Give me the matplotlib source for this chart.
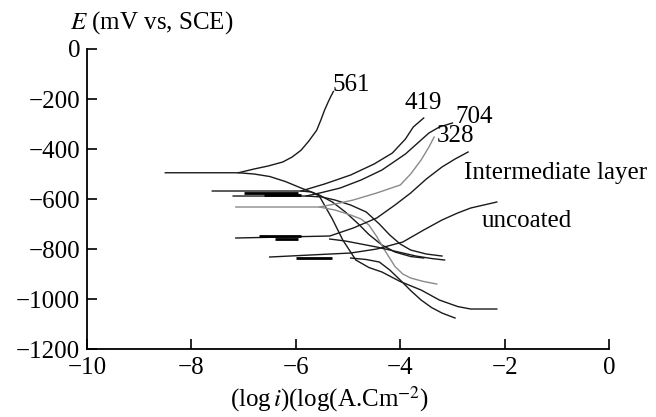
"""
Polarisation curves (Tafel) - coatings vs uncoated
"""
import matplotlib
matplotlib.use("Agg")
import matplotlib.pyplot as plt

# --- dane: log i, E [mV] ---
# galezie anodowe (z plaska czescia przy Ecorr) i katodowe
an_561_x = [-8.5, -7.1, -6.8, -6.53, -6.25, -6.07, -5.9, -5.75, -5.6, -5.52, -5.45, -5.38, -5.33, -5.28]
an_561_E = [-495, -495, -480, -468, -452, -432, -405, -368, -325, -284, -245, -212, -190, -170]
ca_561_x = [-7.1, -6.8, -6.5, -6.2, -5.9, -5.55, -5.3, -5.05, -4.8, -4.6, -4.35, -4.1, -3.8, -3.55]
ca_561_E = [-495, -500, -510, -530, -556, -584, -612, -652, -700, -742, -784, -812, -830, -836]

an_419_x = [-7.6, -5.9, -5.45, -4.95, -4.5, -4.15, -3.9, -3.75, -3.55]
an_419_E = [-568, -568, -540, -504, -460, -416, -360, -312, -276]
ca_419_x = [-5.9, -5.7, -5.55, -5.3, -5.1, -4.85, -4.6, -4.35, -4.0, -3.6, -3.25, -2.9, -2.65, -2.15]
ca_419_E = [-568, -572, -588, -680, -764, -844, -874, -892, -930, -964, -1004, -1030, -1040, -1040]

an_704_x = [-7.2, -5.8, -5.5, -5.15, -4.75, -4.35, -3.9, -3.6, -3.45, -3.25, -3.0]
an_704_E = [-588, -588, -574, -556, -524, -484, -420, -364, -336, -312, -296]
ca_704_x = [-5.8, -5.5, -5.25, -4.95, -4.65, -4.4, -4.2, -4.0, -3.8, -3.5, -3.2]
ca_704_E = [-588, -592, -604, -624, -652, -700, -744, -780, -804, -820, -828]

an_328_x = [-7.15, -5.55, -5.2, -4.9, -4.45, -4.0, -3.8, -3.6, -3.45, -3.35]
an_328_E = [-632, -632, -618, -604, -576, -544, -500, -444, -392, -352]
ca_328_x = [-5.55, -5.25, -4.95, -4.75, -4.6, -4.45, -4.3, -4.1, -3.95, -3.8, -3.55, -3.3]
ca_328_E = [-632, -644, -664, -680, -704, -750, -804, -870, -900, -916, -930, -940]

an_int_x = [-7.15, -5.35, -4.9, -4.45, -4.1, -3.8, -3.5, -3.2, -2.95, -2.7]
an_int_E = [-756, -748, -716, -676, -624, -576, -520, -472, -440, -412]
ca_int_x = [-5.35, -5.05, -4.75, -4.45, -4.2, -3.95, -3.7, -3.4, -3.15]
ca_int_E = [-760, -768, -780, -792, -804, -816, -828, -838, -844]

an_unc_x = [-6.5, -4.95, -4.45, -3.95, -3.55, -3.2, -2.9, -2.65, -2.4, -2.15]
an_unc_E = [-832, -816, -800, -772, -724, -684, -656, -636, -624, -612]
ca_unc_x = [-4.95, -4.65, -4.4, -4.2, -4.0, -3.8, -3.6, -3.4, -3.2, -2.95]
ca_unc_E = [-836, -842, -852, -884, -924, -966, -1004, -1034, -1056, -1076]

# zaszumione (pogrubione) odcinki przy Ecorr
szum_x0 = [-7.0, -6.6, -6.7, -6.4, -6.0]
szum_x1 = [-5.95, -5.9, -5.9, -5.95, -5.3]
szum_E = [-576, -584, -748, -760, -836]

# etykiety krzywych
etykiety = ["561", "419", "704", "328", "Intermediate layer", "uncoated"]
etyk_x = [-4.94, -3.56, -2.59, -2.95, -1.03, -1.57]
etyk_E = [-144, -216, -272, -348, -496, -688]

plt.rcParams['font.family'] = ['Liberation Serif', 'DejaVu Serif']
plt.rcParams['mathtext.fontset'] = 'stix'
plt.rcParams['axes.unicode_minus'] = True

fig = plt.figure(figsize=(6.56, 4.17), dpi=100)
ax = fig.add_axes([0.1326, 0.163, 0.7958, 0.7195])

czarny = '#1a1a1a'
szary = '#8a8a8a'
krzywe = [
    (an_561_x, an_561_E, ca_561_x, ca_561_E, czarny),
    (an_419_x, an_419_E, ca_419_x, ca_419_E, czarny),
    (an_704_x, an_704_E, ca_704_x, ca_704_E, czarny),
    (an_328_x, an_328_E, ca_328_x, ca_328_E, szary),
    (an_int_x, an_int_E, ca_int_x, ca_int_E, czarny),
    (an_unc_x, an_unc_E, ca_unc_x, ca_unc_E, czarny),
]
for ax_, aE, cx, cE, kol in krzywe:
    ax.plot(ax_, aE, color=kol, lw=1.0)
    ax.plot(cx, cE, color=kol, lw=1.0)

for x0, x1, e in zip(szum_x0, szum_x1, szum_E):
    ax.plot([x0, x1], [e, e], color='black', lw=2.0, solid_capstyle='butt')

for t, x, e in zip(etykiety, etyk_x, etyk_E):
    ax.text(x, e, t, ha='center', va='center', fontsize=18, clip_on=False)

ax.set_xlim(-10, 0)
ax.set_ylim(-1200, 0)
ax.set_xticks([-10, -8, -6, -4, -2, 0])
ax.set_yticks([0, -200, -400, -600, -800, -1000, -1200])
for s in ['top', 'right']:
    ax.spines[s].set_visible(False)
for s in ['left', 'bottom']:
    ax.spines[s].set_linewidth(1.3)
ax.tick_params(direction='in', length=7, width=1.2, labelsize=18, pad=5)
ax.tick_params(axis='x', pad=6)

fig.text(0.232, 0.945, r"$E$ (mV vs, SCE)", ha='center', va='center', fontsize=18)
fig.text(0.503, 0.008, r"(log$\,i$)(log(A.Cm$^{-2}$)", ha='center', va='bottom', fontsize=18)

fig.savefig('out.png', dpi=100)
